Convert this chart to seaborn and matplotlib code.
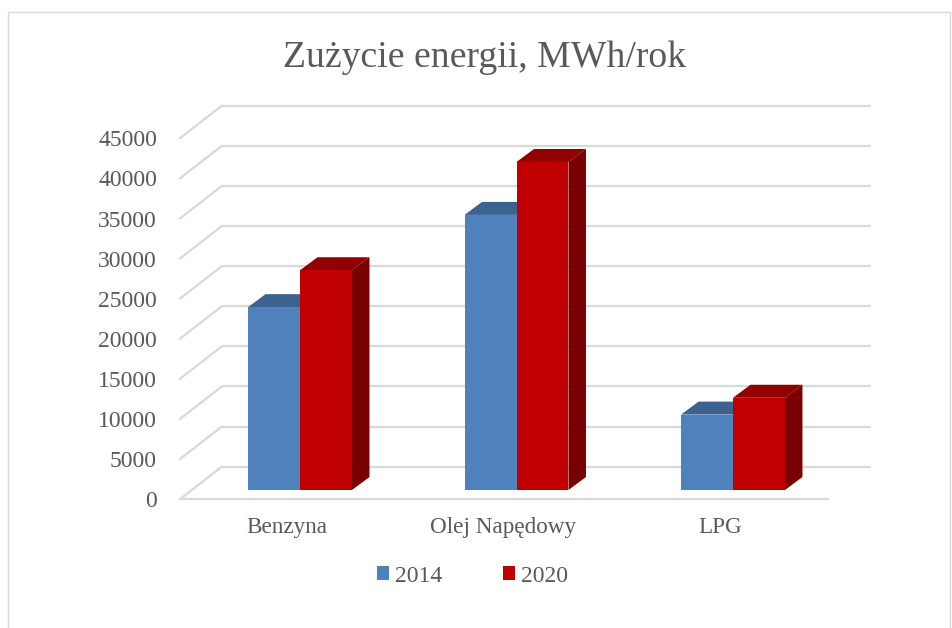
import matplotlib
matplotlib.use('Agg')
import matplotlib.pyplot as plt
import seaborn as sns
import pandas as pd
import numpy as np
from matplotlib.transforms import ScaledTranslation
from matplotlib.patches import Polygon, Rectangle
from matplotlib.colors import to_rgb

# ---- data ----
categories = ['Benzyna', 'Olej Napędowy', 'LPG']
years = ['2014', '2020']
values_2014 = [22800, 34300, 9400]
values_2020 = [27400, 40900, 11500]
y_ticks = [0, 5000, 10000, 15000, 20000, 25000, 30000, 35000, 40000, 45000]
title = 'Zużycie energii, MWh/rok'

# ---- style ----
sns.set_theme(style='white')
plt.rcParams['font.family'] = ['Liberation Serif', 'DejaVu Serif']
TEXT = '#595959'
GRID = '#D9D9D9'
colors = ['#4F81BD', '#C00000']

W, H, DPI = 953, 628, 100
fig = plt.figure(figsize=(W / DPI, H / DPI), dpi=DPI, facecolor='white')
ax = fig.add_axes([160 / W, 1 - 510 / H, 740 / W, 420 / H])
ax.set_facecolor('none')

df = pd.DataFrame({
    'kategoria': categories * 2,
    'rok': [years[0]] * len(categories) + [years[1]] * len(categories),
    'wartosc': values_2014 + values_2020,
})
sns.barplot(data=df, x='kategoria', y='wartosc', hue='rok', palette=colors,
            width=0.48, saturation=1, edgecolor='none', linewidth=0,
            ax=ax, zorder=3)

ax.set_xlim(-0.6467, 2.7714)
ax.set_ylim(-2493.8, 49875.3)
for s in ax.spines.values():
    s.set_visible(False)
ax.grid(False)
ax.set_xlabel('')
ax.set_ylabel('')

mm = fig.dpi_scale_trans
back = ax.transData + ScaledTranslation(30 / DPI, 23.3 / DPI, mm)
front = ax.transData + ScaledTranslation(-12 / DPI, -9.3 / DPI, mm)
inv = ax.transData.inverted()

# back wall and side wall gridlines
for v in y_ticks:
    ax.plot([-0.5, 2.5], [v, v], transform=back, color=GRID, lw=1.6,
            zorder=0, clip_on=False, solid_capstyle='butt')
    pf = inv.transform(front.transform((-0.5, v)))
    pb = inv.transform(back.transform((-0.5, v)))
    ax.plot([pf[0], pb[0]], [pf[1], pb[1]], color=GRID, lw=1.6, zorder=0,
            clip_on=False)
ax.plot([-0.5, 2.5], [0, 0], transform=front, color=GRID, lw=1.6, zorder=0,
        clip_on=False, solid_capstyle='butt')

# 3D depth faces of bars
DX, DY = 17.5, 13.0


def shift(x, y):
    p = ax.transData.transform((x, y)) + np.array([DX, DY])
    return inv.transform(p)


for patch in list(ax.patches):
    h = patch.get_height()
    if not np.isfinite(h) or h <= 0:
        continue
    x0 = patch.get_x()
    x1 = x0 + patch.get_width()
    c = np.array(to_rgb(patch.get_facecolor()))
    top = [(x0, h), (x1, h), tuple(shift(x1, h)), tuple(shift(x0, h))]
    side = [(x1, 0), (x1, h), tuple(shift(x1, h)), tuple(shift(x1, 0))]
    ax.add_patch(Polygon(top, closed=True, facecolor=c * 0.76, edgecolor='none', zorder=2))
    ax.add_patch(Polygon(side, closed=True, facecolor=c * 0.63, edgecolor='none', zorder=2))

# ticks
ax.set_yticks(y_ticks)
ax.set_yticklabels([str(v) for v in y_ticks])
ax.tick_params(axis='y', length=0, pad=2.2, labelsize=17, labelcolor=TEXT)
for lbl in ax.get_yticklabels():
    lbl.set_transform(lbl.get_transform() + ScaledTranslation(0, -9.3 / DPI, mm))

ax.set_xticks(range(len(categories)))
ax.set_xticklabels(categories)
ax.tick_params(axis='x', length=0, pad=4.7, labelsize=16.7, labelcolor=TEXT)
for lbl in ax.get_xticklabels():
    lbl.set_transform(lbl.get_transform() + ScaledTranslation(-13 / DPI, 0, mm))

# legend
handles, labels = ax.get_legend_handles_labels()
if ax.get_legend() is not None:
    ax.get_legend().remove()
fig.legend(handles, labels, loc='center', bbox_to_anchor=(472.5 / W, 1 - 576 / H),
           ncol=2, frameon=False, fontsize=17, handlelength=0.5, handleheight=0.5,
           handletextpad=0.25, columnspacing=2.6, labelcolor=TEXT)

# title
fig.text(485 / W, 1 - 58 / H, title, ha='center', va='center', fontsize=27.2, color=TEXT)

# chart border
fig.add_artist(Rectangle((8 / W, -0.05), 942 / W, 1.05 - 12 / H, transform=fig.transFigure,
                         fill=False, edgecolor=GRID, lw=1))

fig.savefig('out.png', dpi=DPI, facecolor='white')
